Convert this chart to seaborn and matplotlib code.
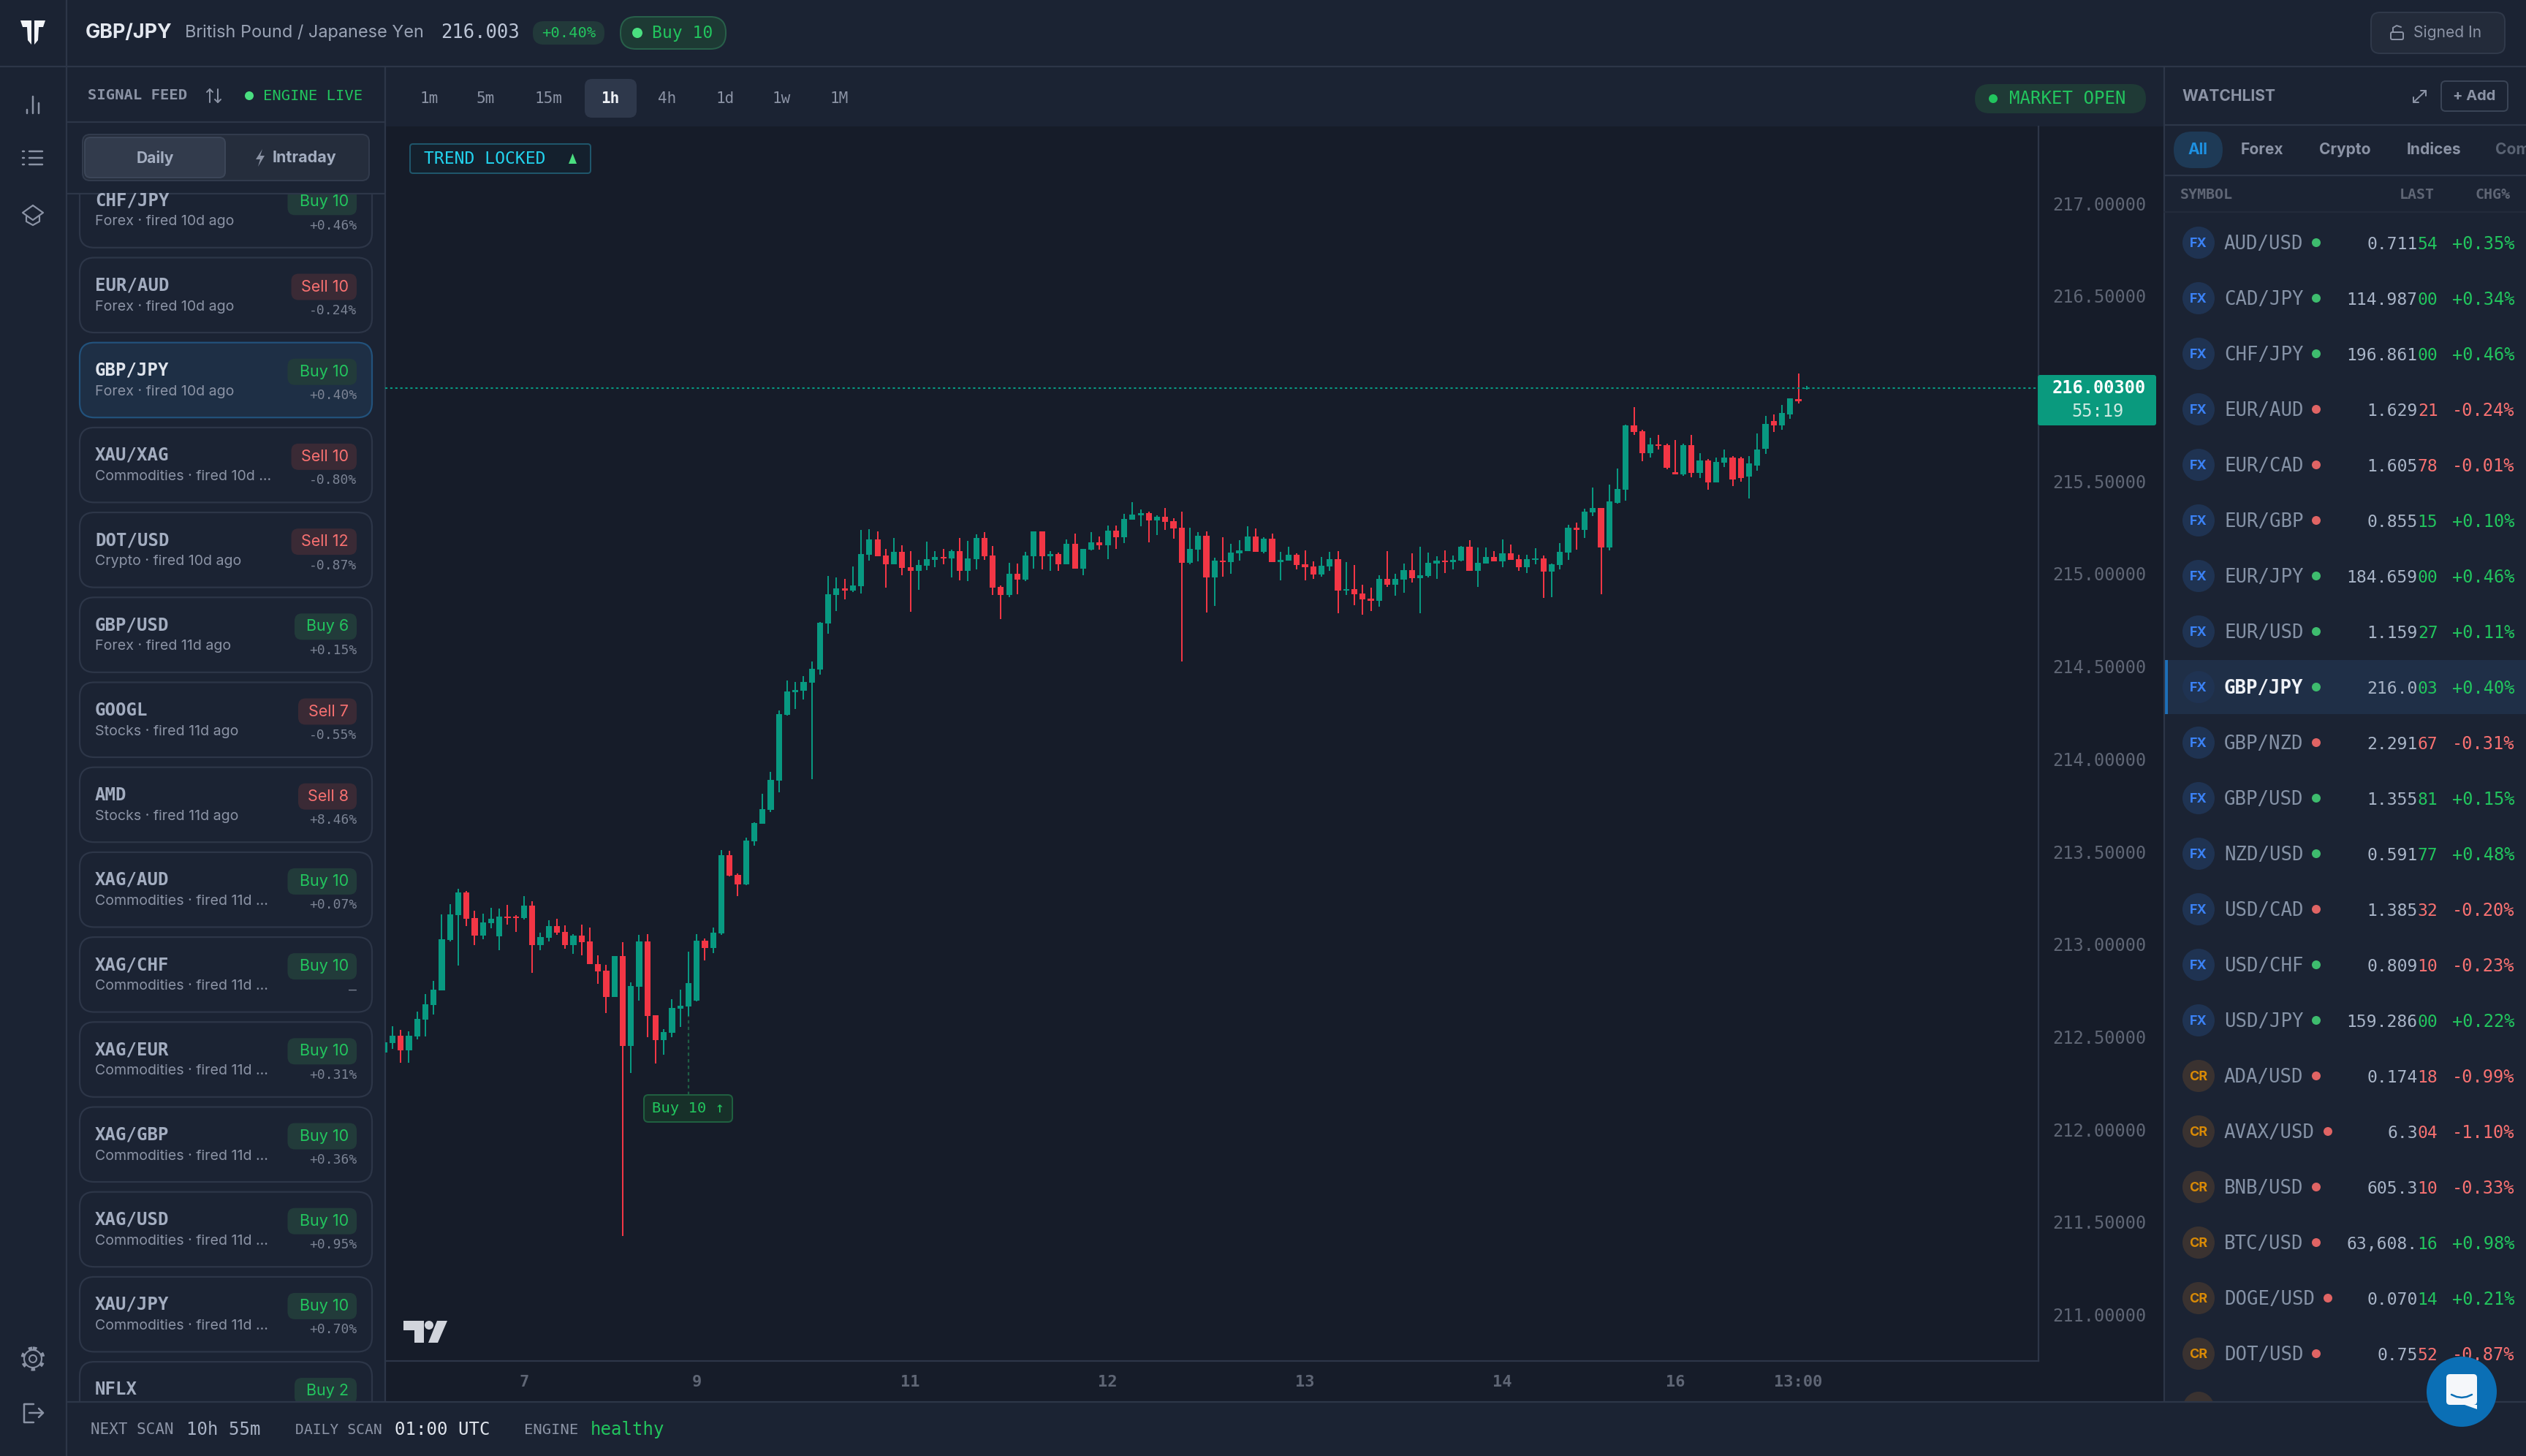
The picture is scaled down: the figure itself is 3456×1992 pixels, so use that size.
import matplotlib
matplotlib.use("Agg")
import matplotlib.pyplot as plt
from matplotlib.patches import FancyBboxPatch, Rectangle, Circle, Ellipse, Polygon
import seaborn as sns
import pandas as pd

# ---- candle data (GBP/JPY 1h) ----
opens = [212.415,212.467,212.506,212.428,212.503,212.593,212.673,212.751,213.022,213.158,
         213.280,213.141,213.047,213.114,213.042,213.150,213.149,213.141,213.208,212.996,
         213.035,213.099,213.066,212.996,213.047,213.016,212.893,212.857,212.715,212.936,
         212.451,212.771,213.016,212.616,212.482,212.521,212.652,212.663,212.694,213.019,
         212.980,213.058,213.482,213.375,213.322,213.556,213.650,213.725,213.883,214.238,
         214.361,214.368,214.412,214.483,214.732,214.886,214.921,214.909,214.933,215.103,
         215.186,215.099,215.052,215.119,215.036,215.016,215.044,215.075,215.091,215.083,
         215.123,215.016,215.079,215.194,215.099,214.929,214.886,215.000,214.969,215.095,
         215.229,215.095,215.107,215.052,215.162,215.028,215.130,215.170,215.154,215.233,
         215.198,215.292,215.316,215.328,215.288,215.308,215.284,215.249,215.059,215.130,
         215.205,214.981,215.071,215.063,215.111,215.123,215.201,215.119,215.190,215.063,
         215.071,215.103,215.052,215.040,214.996,215.040,215.079,214.909,214.917,214.894,
         214.866,214.854,214.973,214.941,214.969,215.020,214.977,214.988,215.055,215.071,
         215.063,215.071,215.146,215.016,215.055,215.091,215.067,215.111,215.079,215.036,
         215.075,215.083,215.012,215.048,215.115,215.249,215.237,215.332,215.355,215.142,
         215.383,215.454,215.801,215.770,215.652,215.699,215.695,215.549,215.537,215.695,
         215.545,215.612,215.494,215.600,215.628,215.624,215.525,215.584,215.675,215.825,
         215.801,215.861,215.944,215.999]
closes = [212.470,212.506,212.428,212.506,212.596,212.676,212.755,213.027,213.161,213.280,
          213.138,213.047,213.117,213.138,213.150,213.141,213.141,213.208,212.996,213.039,
          213.099,213.061,212.996,213.047,213.011,212.891,212.854,212.715,212.936,212.451,
          212.774,213.016,212.613,212.482,212.526,212.655,212.666,212.790,213.019,212.980,
          213.063,213.482,213.370,213.323,213.560,213.654,213.729,213.887,214.242,214.365,
          214.372,214.416,214.487,214.736,214.890,214.921,214.911,214.937,215.107,215.186,
          215.095,215.052,215.119,215.032,215.016,215.048,215.079,215.091,215.083,215.123,
          215.016,215.083,215.194,215.095,214.925,214.886,215.000,214.969,215.099,215.229,
          215.095,215.107,215.052,215.162,215.028,215.134,215.170,215.154,215.233,215.198,
          215.296,215.320,215.328,215.288,215.308,215.280,215.245,215.059,215.134,215.205,
          214.981,215.071,215.063,215.115,215.127,215.201,215.119,215.190,215.063,215.075,
          215.103,215.048,215.036,214.996,215.044,215.079,214.909,214.917,214.890,214.862,
          214.854,214.973,214.941,214.973,215.020,214.977,214.992,215.059,215.071,215.063,
          215.075,215.146,215.016,215.059,215.091,215.067,215.111,215.075,215.036,215.079,
          215.083,215.012,215.052,215.119,215.249,215.237,215.336,215.355,215.142,215.391,
          215.458,215.801,215.766,215.652,215.699,215.691,215.573,215.537,215.695,215.545,
          215.612,215.494,215.604,215.628,215.509,215.517,215.596,215.671,215.809,215.801,
          215.869,215.947,215.932,216.003]
highs = [212.470,212.556,212.537,212.528,212.638,212.730,212.801,213.161,213.216,213.298,
         213.289,213.180,213.164,213.195,213.191,213.211,213.158,213.258,213.231,213.061,
         213.128,213.136,213.100,213.055,213.105,213.092,212.939,212.888,212.936,213.011,
         212.793,213.049,213.053,212.616,212.540,212.702,212.754,212.958,213.056,213.030,
         213.092,213.510,213.503,213.384,213.574,213.660,213.812,213.930,214.262,214.424,
         214.416,214.447,214.526,214.740,214.987,214.981,214.971,215.038,215.237,215.241,
         215.229,215.134,215.194,215.154,215.123,215.075,215.174,215.123,215.134,215.130,
         215.194,215.178,215.213,215.225,215.150,214.937,215.059,215.055,215.119,215.229,
         215.229,215.123,215.115,215.186,215.217,215.134,215.225,215.201,215.261,215.261,
         215.324,215.387,215.348,215.336,215.316,215.355,215.300,215.336,215.249,215.225,
         215.229,215.087,215.198,215.162,215.182,215.257,215.245,215.198,215.217,215.119,
         215.146,215.111,215.127,215.067,215.091,215.119,215.123,215.063,215.048,214.941,
         214.925,214.992,215.123,215.000,215.055,215.111,215.146,215.115,215.095,215.127,
         215.099,215.150,215.182,215.142,215.142,215.123,215.186,215.158,215.103,215.103,
         215.138,215.099,215.055,215.166,215.265,215.277,215.351,215.466,215.355,215.482,
         215.569,215.805,215.900,215.778,215.734,215.750,215.703,215.723,215.703,215.750,
         215.652,215.620,215.628,215.671,215.636,215.632,215.636,215.758,215.853,215.861,
         215.912,215.947,216.082,216.014]
lows = [212.415,212.435,212.361,212.361,212.487,212.503,212.621,212.751,213.016,212.883,
        213.099,212.996,213.027,213.086,212.969,213.106,213.066,213.133,212.846,212.969,
        213.016,213.050,212.975,212.949,212.939,212.891,212.786,212.629,212.715,211.424,
        212.306,212.696,212.498,212.356,212.404,212.498,212.554,212.613,212.691,212.913,
        212.952,213.049,213.367,213.259,213.319,213.532,213.650,213.713,213.820,214.234,
        214.270,214.321,213.891,214.456,214.677,214.799,214.862,214.902,214.894,215.071,
        215.095,214.925,215.052,214.992,214.795,214.913,215.020,215.036,215.052,214.980,
        214.965,214.961,215.024,215.075,214.886,214.756,214.874,214.890,214.961,215.028,
        215.024,215.016,215.016,215.052,215.028,214.992,215.127,215.130,215.079,215.134,
        215.166,215.292,215.257,215.170,215.209,215.237,215.190,214.527,215.052,215.067,
        214.791,214.827,214.984,215.000,215.071,215.123,215.119,215.111,215.063,214.965,
        215.071,215.024,214.965,214.973,214.984,215.016,214.787,214.886,214.831,214.779,
        214.799,214.823,214.929,214.882,214.898,214.953,214.787,214.981,214.973,215.004,
        215.024,215.067,215.016,214.929,215.055,215.067,215.036,215.075,215.016,215.004,
        215.052,214.870,214.874,215.024,215.075,215.130,215.194,215.312,214.890,215.127,
        215.379,215.395,215.750,215.608,215.628,215.671,215.565,215.537,215.529,215.521,
        215.517,215.454,215.494,215.577,215.474,215.498,215.407,215.557,215.648,215.766,
        215.778,215.837,215.920,215.996]

price_ticks = [211.0, 211.5, 212.0, 212.5, 213.0, 213.5, 214.0, 214.5, 215.0, 215.5, 216.0, 216.5, 217.0]
time_ticks = [17, 38, 64, 88, 112, 136, 157, 172]
time_labels = ["7", "9", "11", "12", "13", "14", "16", "13:00"]
last_price = 216.003
signal_bar = 37

timeframes = ["1m", "5m", "15m", "1h", "4h", "1d", "1w", "1M"]

# signal feed cards
card_names = ["CHF/JPY", "EUR/AUD", "GBP/JPY", "XAU/XAG", "DOT/USD", "GBP/USD", "GOOGL", "AMD",
              "XAG/AUD", "XAG/CHF", "XAG/EUR", "XAG/GBP", "XAG/USD", "XAU/JPY", "NFLX"]
card_subs = ["Forex · fired 10d ago", "Forex · fired 10d ago", "Forex · fired 10d ago",
             "Commodities · fired 10d ...", "Crypto · fired 10d ago", "Forex · fired 11d ago",
             "Stocks · fired 11d ago", "Stocks · fired 11d ago", "Commodities · fired 11d ...",
             "Commodities · fired 11d ...", "Commodities · fired 11d ...", "Commodities · fired 11d ...",
             "Commodities · fired 11d ...", "Commodities · fired 11d ...", ""]
card_signals = ["Buy 10", "Sell 10", "Buy 10", "Sell 10", "Sell 12", "Buy 6", "Sell 7", "Sell 8",
                "Buy 10", "Buy 10", "Buy 10", "Buy 10", "Buy 10", "Buy 10", "Buy 2"]
card_changes = ["+0.46%", "-0.24%", "+0.40%", "-0.80%", "-0.87%", "+0.15%", "-0.55%", "+8.46%",
                "+0.07%", "—", "+0.31%", "+0.36%", "+0.95%", "+0.70%", ""]

# watchlist rows
wl_symbols = ["AUD/USD", "CAD/JPY", "CHF/JPY", "EUR/AUD", "EUR/CAD", "EUR/GBP", "EUR/JPY", "EUR/USD",
              "GBP/JPY", "GBP/NZD", "GBP/USD", "NZD/USD", "USD/CAD", "USD/CHF", "USD/JPY",
              "ADA/USD", "AVAX/USD", "BNB/USD", "BTC/USD", "DOGE/USD", "DOT/USD"]
wl_last_head = ["0.711", "114.987", "196.861", "1.629", "1.605", "0.855", "184.659", "1.159",
                "216.0", "2.291", "1.355", "0.591", "1.385", "0.809", "159.286",
                "0.174", "6.3", "605.3", "63,608.", "0.070", "0.75"]
wl_last_tail = ["54", "00", "00", "21", "78", "15", "00", "27", "03", "67", "81", "77", "32", "10", "00",
                "18", "04", "10", "16", "14", "52"]
wl_changes = ["+0.35%", "+0.34%", "+0.46%", "-0.24%", "-0.01%", "+0.10%", "+0.46%", "+0.11%",
              "+0.40%", "-0.31%", "+0.15%", "+0.48%", "-0.20%", "-0.23%", "+0.22%",
              "-0.99%", "-1.10%", "-0.33%", "+0.98%", "+0.21%", "-0.87%"]
wl_dot_up = [1, 1, 1, 0, 0, 0, 1, 1, 1, 0, 1, 1, 0, 1, 1, 0, 0, 0, 0, 0, 0]

# colours
PANEL = "#1b2333"
CHART = "#161c29"
LINE = "#2d3648"
UP = "#089981"
DOWN = "#f23645"
GREEN = "#22c55e"
RED = "#f87171"
GREY = "#8b93a5"
DIM = "#5f6675"
LABEL = "#a3adc0"
MONO = ["DejaVu Sans Mono"]
SANS = ["Inter", "DejaVu Sans"]

sns.set_theme(style="dark", rc={"axes.facecolor": CHART, "figure.facecolor": PANEL,
                                "patch.force_edgecolor": False, "patch.edgecolor": "none"})
plt.rcParams["font.family"] = ["Inter", "DejaVu Sans"]

W, H = 3456, 1992
fig = plt.figure(figsize=(W / 100, H / 100), dpi=100)


def full_axes(z):
    a = fig.add_axes([0, 0, 1, 1], zorder=z)
    a.set_xlim(0, W)
    a.set_ylim(H, 0)
    a.axis("off")
    a.patch.set_alpha(0)
    return a


def put(a, x, y, s, px, color, ha="left", fam=SANS, weight="normal", z=5):
    a.text(x, y + 2, s, fontsize=px * 0.72, color=color, ha=ha, va="center", family=fam, fontweight=weight, zorder=z)


def box(a, x0, y0, x1, y1, r, fc, ec="none", lw=2, z=2):
    a.add_patch(FancyBboxPatch((x0, y0), x1 - x0, y1 - y0, boxstyle=f"round,pad=0,rounding_size={r}",
                               fc=fc, ec=ec, lw=lw * 0.72, zorder=z))


def rect(a, x0, y0, x1, y1, fc, z=1):
    a.add_patch(Rectangle((x0, y0), x1 - x0, y1 - y0, fc=fc, ec="none", zorder=z))


def seg(a, xs, ys, color=GREY, lw=2.5, z=6):
    a.plot(xs, ys, color=color, lw=lw * 0.72, zorder=z, solid_capstyle="round")


bg = full_axes(0)
fg = full_axes(3)

# ---- candles, drawn with seaborn bars on a numeric scale ----
df = pd.DataFrame({"i": range(len(opens)), "open": opens, "high": highs, "low": lows, "close": closes})
df["wick"] = df["high"] - df["low"]
df["body_low"] = df[["open", "close"]].min(axis=1)
df["body"] = (df["open"] - df["close"]).abs()
df["up"] = df["close"] >= df["open"]

ax = fig.add_axes([527 / W, 1 - 1862 / H, (2789 - 527) / W, (1862 - 173) / H], zorder=1)
ax.patch.set_alpha(0)
for is_up, color in [(True, UP), (False, DOWN)]:
    sub = df[df["up"] == is_up]
    sns.barplot(data=sub, x="i", y="wick", bottom=sub["low"].to_numpy(), native_scale=True, orient="x",
                width=0.18, color=color, saturation=1, linewidth=0, errorbar=None, ax=ax)
    sns.barplot(data=sub, x="i", y="body", bottom=sub["body_low"].to_numpy(), native_scale=True, orient="x",
                width=0.73, color=color, saturation=1, linewidth=0, errorbar=None, ax=ax)
ax.set_xlim(0.116, 201.2)
ax.set_ylim(210.75, 217.415)
ax.axhline(last_price, color=UP, lw=1.5, ls=(0, (1.5, 1.8)), zorder=1)
ax.vlines(signal_bar, 212.186, 212.613, color="#1f5f45", lw=1.6, ls=(0, (2, 2)))
ax.set_xlabel("")
ax.set_ylabel("")
ax.yaxis.tick_right()
ax.set_yticks(price_ticks)
ax.set_yticklabels([f"{p:.5f}" for p in price_ticks], family=MONO, fontsize=23.6 * 0.72, color=DIM)
ax.set_xticks(time_ticks)
ax.set_xticklabels(time_labels, family=MONO, fontsize=22 * 0.72, color=DIM, fontweight="bold")
ax.tick_params(axis="y", length=0, pad=13.5)
ax.tick_params(axis="x", length=0, pad=14)
ax.grid(False)
sns.despine(ax=ax, top=True, left=True, right=False, bottom=False)
for s in ["right", "bottom"]:
    ax.spines[s].set_color(LINE)
    ax.spines[s].set_linewidth(1.6)

# ---- page layout ----
rect(bg, 527, 173, 2961, 1918, CHART)
for xs, ys in [((91, 91), (0, H)), ((0, W), (91, 91)), ((527, 527), (91, 1918)), ((2961, 2961), (91, 1918)),
               ((91, W), (1918, 1918)), ((91, 527), (167, 167)), ((91, 527), (265, 265)),
               ((2961, W), (171, 171)), ((2961, W), (240, 240))]:
    bg.plot(xs, ys, color=LINE, lw=1.6, zorder=4)
bg.plot((2961, W), (290, 290), color="#252d3d", lw=1.2, zorder=4)

# logo
bg.add_patch(Polygon([(28, 28), (43, 28), (43, 61), (38, 55), (37, 37), (31, 37)], fc="#f2f4f8", ec="none", zorder=5))
bg.add_patch(Polygon([(62, 28), (47, 28), (47, 61), (52, 55), (53, 37), (59, 37)], fc="#f2f4f8", ec="none", zorder=5))

# top bar
put(bg, 117, 43, "GBP/JPY", 27, "#e4e8f0", weight="bold")
put(bg, 253, 43, "British Pound / Japanese Yen", 23.5, "#9aa3b5")
put(bg, 603, 43, "216.003", 25.6, "#bcc5d6", fam=MONO)
box(bg, 729, 29, 827, 61, 15, "#22393a")
put(bg, 778, 43, "+0.40%", 20.5, GREEN, ha="center", fam=MONO)
box(bg, 849, 23, 993, 67, 21, "#1d3a34", ec="#28604a")
bg.add_patch(Ellipse((872, 45), 14, 14, fc="#4ade80", ec="none", zorder=5))
put(bg, 892, 43, "Buy 10", 23, GREEN, fam=MONO)
box(bg, 3244, 17, 3427, 73, 12, "#232b3a", ec="#30394a")
box(bg, 3271, 44, 3288, 54, 2, "none", ec=GREY, lw=2, z=5)
seg(bg, [3274, 3274, 3279, 3285], [44, 38, 35, 37], lw=2)
put(bg, 3302, 43, "Signed In", 21, GREY)

# sidebar icons
for x, top in [(37, 150), (45, 132), (53, 141)]:
    seg(bg, [x, x], [top, 155])
for y in [207, 216, 225]:
    seg(bg, [40, 58], [y, y])
    seg(bg, [31, 33], [y, y])
seg(bg, [45, 31, 45, 59, 45], [281, 291, 301, 291, 281], lw=2.2)
seg(bg, [36, 36, 45, 54, 54], [296, 303, 308, 303, 296], lw=2.2)
bg.add_patch(Circle((45, 1859), 12, fc="none", ec=GREY, lw=1.5, zorder=6))
bg.add_patch(Circle((45, 1859), 14.5, fc="none", ec=GREY, lw=3, ls=(0, (1.3, 2.1)), zorder=6))
bg.add_patch(Circle((45, 1859), 5, fc="none", ec=GREY, lw=1.5, zorder=6))
seg(bg, [46, 33, 33, 46], [1921, 1921, 1946, 1946])
seg(bg, [40, 59], [1933, 1933])
seg(bg, [53, 59, 53], [1927, 1933, 1939])

# signal feed cards, covered at top and bottom by the panel headers
for k, name in enumerate(card_names):
    top = 236.3 + 116.2 * k
    active = name == "GBP/JPY"
    box(bg, 109, top, 509, top + 102.5, 20, "#1e2f45" if active else PANEL,
        ec="#22527c" if active else "#2d3648", lw=2.2)
    put(bg, 130, top + 36, name, 24, "#dfe4ec" if active else LABEL, fam=MONO, weight="bold")
    put(bg, 130, top + 65, card_subs[k], 19.6, GREY)
    buy = card_signals[k].startswith("Buy")
    two_digit = card_signals[k][-2:].isdigit()
    bw = (85 if buy else 80) + (9.5 if two_digit else 0)
    box(bg, 488 - bw, top + 22, 488, top + 58, 10, "#223b3a" if buy else "#3a2a35")
    put(bg, 477, top + 38, card_signals[k], 21.5, GREEN if buy else RED, ha="right")
    put(bg, 488, top + 70.5, card_changes[k], 18, "#7b8394", ha="right", fam=MONO)
rect(bg, 92, 92, 526, 264, PANEL, z=3)
rect(bg, 92, 1919, 526, H, PANEL, z=3)

# signal feed header
put(bg, 120, 128, "SIGNAL FEED", 20.5, GREY, fam=MONO, weight="bold")
seg(bg, [287, 287], [122, 140], lw=2)
seg(bg, [283, 287, 291], [126, 122, 126], lw=2)
seg(bg, [298, 298], [122, 140], lw=2)
seg(bg, [294, 298, 302], [136, 140, 136], lw=2)
box(bg, 325, 114, 355, 148, 15, "#1f4038")
bg.add_patch(Ellipse((341, 131), 12, 12, fc="#4ade80", ec="none", zorder=5))
put(bg, 360, 129, "ENGINE LIVE", 20.5, GREEN, fam=MONO)
box(bg, 113, 184, 505, 247, 10, "#252d3c", ec="#323b4c", z=4)
box(bg, 116, 188, 308, 243, 8, "#323b4c", ec="#3c4658", z=4)
put(bg, 212, 214, "Daily", 21, LABEL, ha="center", weight="bold")
bg.add_patch(Polygon([(359, 204), (350, 218), (356, 218), (353, 228), (362, 213), (356, 213)], fc=GREY, ec="none", zorder=6))
put(bg, 373, 214, "Intraday", 21.5, LABEL, weight="bold")

# footer
put(bg, 124, 1954, "NEXT SCAN", 21, GREY, fam=MONO)
put(bg, 255, 1954, "10h 55m", 24, "#a9b3c6", fam=MONO)
put(bg, 404, 1954, "DAILY SCAN", 19.6, GREY, fam=MONO)
put(bg, 540, 1954, "01:00 UTC", 24, "#dfe4ec", fam=MONO)
put(bg, 717, 1954, "ENGINE", 20.5, GREY, fam=MONO)
put(bg, 808, 1954, "healthy", 24, GREEN, fam=MONO)

# chart toolbar
tf_x = [587, 664, 750, 835, 913, 992, 1069, 1148]
box(bg, 800, 108, 871, 161, 10, "#2e384b")
for x, tf in zip(tf_x, timeframes):
    put(bg, x, 133, tf, 21, "#eef1f6" if tf == "1h" else GREY, ha="center", fam=MONO, weight="bold" if tf == "1h" else "normal")
box(bg, 2702, 115, 2936, 155, 20, "#1f3a36")
bg.add_patch(Ellipse((2727, 135), 12, 12, fc="#22c55e", ec="none", zorder=5))
put(bg, 2829, 133, "MARKET OPEN", 24, GREEN, ha="center", fam=MONO)

# chart overlays
box(fg, 561, 197, 808, 237, 4, "#14202d", ec="#1f566b")
put(fg, 580, 215, "TREND LOCKED", 23, "#22d3ee", fam=MONO)
fg.add_patch(Polygon([(778, 224), (789, 224), (783.5, 210)], fc="#4ade80", ec="none", zorder=6))
box(fg, 881, 1498, 1002, 1535, 6, "#173029", ec="#1f6040")
put(fg, 941.5, 1514, "Buy 10 ↑", 20.5, GREEN, ha="center", fam=MONO)
box(fg, 2788, 513, 2950, 582, 3, "#0a9a7e")
put(fg, 2872, 529, "216.00300", 23.6, "#ffffff", ha="center", fam=MONO, weight="bold")
put(fg, 2870, 561, "55:19", 23.6, "#cfeae2", ha="center", fam=MONO)
# TradingView mark
fg.add_patch(Polygon([(552, 1807), (580, 1807), (580, 1837), (567, 1837), (567, 1820), (552, 1820)], fc="#d1d4dc", ec="none", zorder=6))
fg.add_patch(Circle((587, 1813), 6, fc="#d1d4dc", ec="none", zorder=6))
fg.add_patch(Polygon([(598, 1807), (612, 1807), (599, 1837), (586, 1837)], fc="#d1d4dc", ec="none", zorder=6))

# watchlist header
put(fg, 2986, 130, "WATCHLIST", 21, GREY, weight="bold")
seg(fg, [3302, 3319], [140, 124], lw=2)
seg(fg, [3312, 3319, 3319], [124, 124, 131], lw=2)
seg(fg, [3302, 3302, 3309], [133, 140, 140], lw=2)
box(fg, 3340, 111, 3431, 152, 6, "none", ec="#3a4456")
put(fg, 3385, 130, "+ Add", 20, GREY, ha="center", weight="bold")
box(fg, 2974, 180, 3041, 230, 25, "#1e3a56")
put(fg, 3007, 203, "All", 21, "#1e90e0", ha="center", weight="bold")
for x, tab in [(3095, "Forex"), (3208, "Crypto"), (3330, "Indices")]:
    put(fg, x, 203, tab, 21, GREY, ha="center", weight="bold")
put(fg, 3414, 203, "Com", 21, "#5a6373", weight="bold")
put(fg, 2983, 264, "SYMBOL", 20, DIM, fam=MONO, weight="bold")
put(fg, 3331, 264, "LAST", 20, DIM, ha="right", fam=MONO, weight="bold")
put(fg, 3434, 264, "CHG%", 20, DIM, ha="right", fam=MONO, weight="bold")

# watchlist rows
char_w = 23 * 0.602
for k, sym in enumerate(wl_symbols):
    y = 332 + 76 * k
    forex = k < 15
    active = sym == "GBP/JPY"
    if active:
        rect(bg, 2962, y - 37, W, y + 37, "#1f2f47", z=2)
        rect(bg, 2962, y - 37, 2966, y + 37, "#1d6fb8", z=3)
    bg.add_patch(Ellipse((3008, y), 44, 44, fc="#1f3352" if forex else "#3a3230", ec="none", zorder=5))
    put(bg, 3008, y - 1, "FX" if forex else "CR", 18, "#3b82f6" if forex else "#d98a06", ha="center", weight="bold")
    put(bg, 3043, y, sym, 25.8, "#eef1f6" if active else "#8592a6", fam=MONO, weight="bold" if active else "normal")
    dot_x = 3169 if len(sym) == 7 else 3185
    bg.add_patch(Ellipse((dot_x, y), 12, 12, fc="#3ebc6e" if wl_dot_up[k] else "#e06464", ec="none", zorder=5))
    gain = wl_changes[k].startswith("+")
    col = GREEN if gain else RED
    put(bg, 3335.5 - 2 * char_w, y, wl_last_head[k], 23, "#a9b5c8", ha="right", fam=MONO)
    put(bg, 3335.5, y, wl_last_tail[k], 23, col, ha="right", fam=MONO)
    put(bg, 3440, y, wl_changes[k], 23.6, col, ha="right", fam=MONO)
bg.add_patch(Ellipse((3008, 1928), 44, 48, fc="#3a3230", ec="none", zorder=2))
rect(bg, 2962, 1919, W, H, PANEL, z=3)

# chat bubble
fg.add_patch(Circle((3368, 1904), 48, fc="#0b6fb5", ec="none", zorder=7))
box(fg, 3347, 1880, 3389, 1922, 5, "#f5f7fa", z=8)
fg.add_patch(Polygon([(3372, 1922), (3389, 1922), (3389, 1928)], fc="#f5f7fa", ec="none", zorder=8))
seg(fg, [3354, 3361, 3368, 3375, 3382], [1908, 1911, 1912, 1911, 1908], color="#0b6fb5", lw=2.5, z=9)

fig.savefig("out.png", dpi=100, facecolor=PANEL)
